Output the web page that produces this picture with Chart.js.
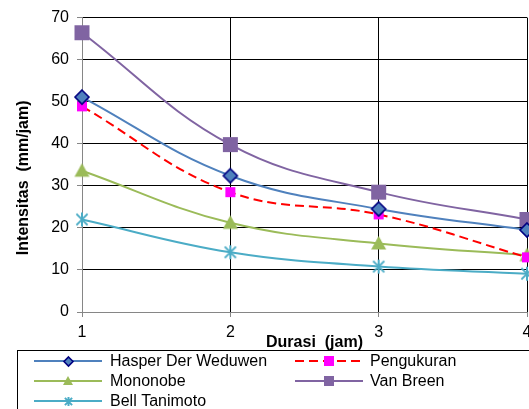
<!DOCTYPE html>
<html>
<head>
<meta charset="utf-8">
<title>Intensitas Hujan</title>
<script src="https://cdn.jsdelivr.net/npm/chart.js@4.4.1/dist/chart.umd.min.js"></script>
<style>
  html, body { margin: 0; padding: 0; background: #fff; overflow: hidden; }
  #wrap { position: relative; width: 560px; height: 409px; }
</style>
</head>
<body>
<div id="wrap"><canvas id="idfChart" width="560" height="409"></canvas></div>
<script>
// durasi hujan (jam) dan intensitas (mm/jam) tiap metode
const durasi = [1, 2, 3, 4];
const hasperDerWeduwen = [51.1, 32.4, 24.5, 19.5];
const pengukuran = [48.9, 28.5, 23.2, 13.0];
const mononobe = [33.6, 21.2, 16.3, 13.5];
const vanBreen = [66.4, 39.8, 28.5, 22.0];
const bellTanimoto = [22.0, 14.2, 10.8, 9.1];
const yTicks = [0, 10, 20, 30, 40, 50, 60, 70];

const FONT = "'Liberation Sans', Arial, sans-serif";

// marker bitmaps, so the same shape is used in the plot and in the legend
function makeMarker(kind, size, fill, stroke) {
    const pad = 3;
    const c = document.createElement('canvas');
    c.width = c.height = size + pad * 2;
    const ctx = c.getContext('2d');
    const m = c.width / 2;
    const r = size / 2;
    ctx.fillStyle = fill;
    ctx.strokeStyle = stroke;
    if (kind === 'diamond') {
        ctx.beginPath();
        ctx.moveTo(m, m - r);
        ctx.lineTo(m + r, m);
        ctx.lineTo(m, m + r);
        ctx.lineTo(m - r, m);
        ctx.closePath();
        ctx.fill();
        ctx.lineWidth = 1.6;
        ctx.stroke();
    } else if (kind === 'square') {
        ctx.fillRect(m - r, m - r, size, size);
    } else if (kind === 'triangle') {
        ctx.beginPath();
        ctx.moveTo(m, m - r);
        ctx.lineTo(m + r, m + r * 0.8);
        ctx.lineTo(m - r, m + r * 0.8);
        ctx.closePath();
        ctx.fill();
    } else if (kind === 'star') {
        ctx.lineWidth = 2;
        ctx.beginPath();
        const d = r * 0.8;
        ctx.moveTo(m - d, m - d); ctx.lineTo(m + d, m + d);
        ctx.moveTo(m + d, m - d); ctx.lineTo(m - d, m + d);
        ctx.moveTo(m, m - r); ctx.lineTo(m, m + r);
        ctx.stroke();
    }
    return c;
}

const series = [
    { label: 'Hasper Der Weduwen', values: hasperDerWeduwen, color: '#4F81BD', kind: 'diamond', size: 14, legendSize: 9, fill: '#4F81BD', stroke: '#000080' },
    { label: 'Pengukuran', values: pengukuran, color: '#FF0000', kind: 'square', size: 10, legendSize: 10, fill: '#FF00FF', stroke: '#FF00FF', dash: [9, 5] },
    { label: 'Mononobe', values: mononobe, color: '#9BBB59', kind: 'triangle', size: 15, legendSize: 10, fill: '#9BBB59', stroke: '#9BBB59' },
    { label: 'Van Breen', values: vanBreen, color: '#8064A2', kind: 'square', size: 15, legendSize: 10, fill: '#8064A2', stroke: '#8064A2' },
    { label: 'Bell Tanimoto', values: bellTanimoto, color: '#4BACC6', kind: 'star', size: 14, legendSize: 9, fill: '#4BACC6', stroke: '#4BACC6' }
];

const datasets = series.map(s => ({
    label: s.label,
    data: durasi.map((d, i) => ({ x: d, y: s.values[i] })),
    borderColor: s.color,
    backgroundColor: s.fill,
    borderWidth: 2,
    borderDash: s.dash || [],
    tension: 0.4,
    pointStyle: makeMarker(s.kind, s.size, s.fill, s.stroke),
    legendMarker: makeMarker(s.kind, s.legendSize, s.fill, s.stroke),
    clip: false
}));

// axis titles (both sit a little off the plot centre) and the boxed two-column legend
const boxLegend = {
    id: 'boxLegend',
    afterDraw(chart) {
        const ctx = chart.ctx;
        const area = chart.chartArea;
        ctx.save();
        ctx.font = 'bold 16px ' + FONT;
        ctx.fillStyle = '#000';
        ctx.textAlign = 'center';
        ctx.textBaseline = 'alphabetic';
        ctx.fillText('Durasi  (jam)', (area.left + area.right) / 2 + 10, 347);

        ctx.save();
        ctx.translate(28, (area.top + area.bottom) / 2 + 13);
        ctx.rotate(-Math.PI / 2);
        ctx.fillText('Intensitas  (mm/jam)', 0, 0);
        ctx.restore();

        ctx.textAlign = 'left';
        ctx.strokeStyle = '#000';
        ctx.lineWidth = 1;
        ctx.strokeRect(17.5, 350.5, 600, 100);
        ctx.font = '16px ' + FONT;
        const cols = [{ x0: 34, x1: 102, text: 110 }, { x0: 295, x1: 363, text: 370 }];
        chart.data.datasets.forEach((ds, i) => {
            const col = cols[i % 2];
            const y = 361 + Math.floor(i / 2) * 20;
            ctx.strokeStyle = ds.borderColor;
            ctx.lineWidth = 2;
            ctx.setLineDash(ds.borderDash);
            ctx.beginPath();
            ctx.moveTo(col.x0, y);
            ctx.lineTo(col.x1, y);
            ctx.stroke();
            ctx.setLineDash([]);
            const mk = ds.legendMarker;
            const mx = (col.x0 + col.x1) / 2;
            ctx.drawImage(mk, Math.round(mx - mk.width / 2), Math.round(y - mk.height / 2));
            ctx.fillText(ds.label, col.text, y + 5);
        });
        ctx.restore();
    }
};

new Chart(document.getElementById('idfChart'), {
    type: 'line',
    data: { datasets: datasets },
    options: {
        responsive: false,
        animation: false,
        layout: { padding: { left: 0, top: 14, right: 33, bottom: 57 } },
        plugins: {
            legend: { display: false },
            tooltip: { enabled: false }
        },
        scales: {
            x: {
                type: 'linear',
                min: 1,
                max: 4,
                afterFit: scale => { scale.height = 40; },
                ticks: { stepSize: 1, color: '#000', padding: 6, font: { family: FONT, size: 16 } },
                grid: { color: '#000', lineWidth: 1, tickLength: 5, tickColor: '#868686' },
                border: { color: '#868686', width: 1 }
            },
            y: {
                min: 0,
                max: 70,
                afterFit: scale => { scale.width = 82; },
                afterBuildTicks: scale => { scale.ticks = yTicks.map(v => ({ value: v })); },
                ticks: { color: '#000', padding: 8, font: { family: FONT, size: 16 } },
                grid: { color: '#000', lineWidth: 1, tickLength: 5, tickColor: '#868686' },
                border: { color: '#868686', width: 1 }
            }
        }
    },
    plugins: [boxLegend]
});
</script>
</body>
</html>
